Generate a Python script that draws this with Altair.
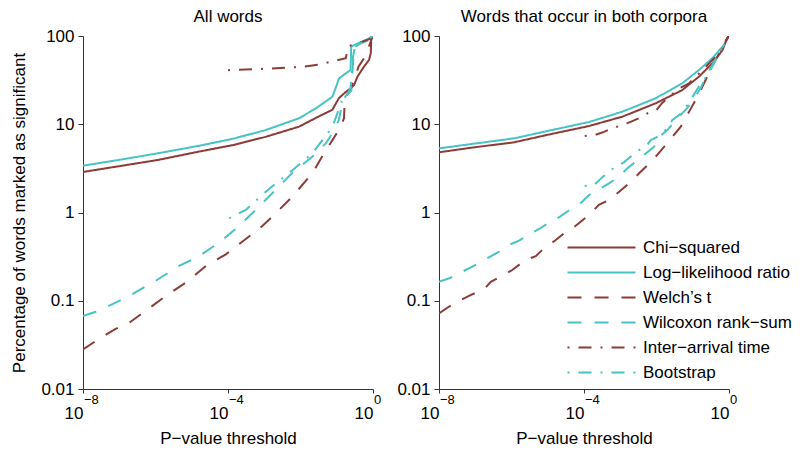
import altair as alt
import pandas as pd

RED = "#8c3b37"
CYAN = "#46c3c5"
FONT = "Liberation Sans"

series_names = ["Chi−squared", "Log−likelihood ratio", "Welch’s t",
                "Wilcoxon rank−sum", "Inter−arrival time", "Bootstrap"]
series_colors = [RED, CYAN, RED, CYAN, RED, CYAN]
series_dashes = [[1, 0], [1, 0], [14, 13], [14, 13], [2, 9, 13, 9], [2, 9, 13, 9]]
panel_titles = ["All words", "Words that occur in both corpora"]

x_ticks = [1e-8, 1e-4, 1.0]
x_exponents = ["−8", "−4", "0"]
y_ticks = [0.01, 0.1, 1, 10, 100]

# ---- Left panel: all words (x = log10 p-value, y = % significant) ----
chi_L_exp = [-8, -7, -5.93, -4.8, -3.87, -2.96, -2.04, -1.49, -1.12, -0.94, -0.74, -0.6, -0.52, -0.43, -0.25, -0.11, -0.06, -0.05, -0.03, 0]
chi_L_val = [2.88, 3.35, 3.94, 4.9, 5.8, 7.2, 9.4, 12.3, 14.6, 19.8, 23.4, 25.7, 27.9, 34.6, 44.9, 53.5, 64, 95, 98, 100]
ll_L_exp = [-8, -7, -5.93, -4.8, -3.86, -2.96, -2.04, -1.58, -1.12, -1.0, -0.94, -0.74, -0.62, -0.6, -0.43, -0.2, -0.03, 0]
ll_L_val = [3.39, 3.95, 4.69, 5.7, 6.85, 8.6, 11.7, 15.1, 20.5, 27.9, 33, 38, 41, 76, 82, 90, 98, 100]
we_L_exp = [-8, -7.56, -7.1, -6.73, -6.27, -5.72, -5.17, -4.61, -4.06, -3.51, -3.06, -2.68, -2.23, -1.67, -1.35, -1.12, -0.89, -0.8, -0.78, -0.7, -0.6, -0.5, -0.4, -0.2, -0.05, 0]
we_L_val = [0.028, 0.037, 0.048, 0.056, 0.077, 0.113, 0.16, 0.248, 0.336, 0.50, 0.70, 0.98, 1.51, 2.8, 4.7, 6.6, 9.4, 11.7, 19, 22, 26, 33, 45, 60, 90, 100]
wx_L_exp = [-8, -7.65, -7.2, -6.65, -6.0, -5.35, -4.8, -4.25, -3.79, -3.33, -2.78, -2.23, -1.67, -1.3, -1.12, -0.94, -0.85, -0.75, -0.6, -0.55, -0.5, -0.35, -0.1, 0]
wx_L_val = [0.067, 0.075, 0.091, 0.118, 0.168, 0.248, 0.32, 0.455, 0.65, 0.98, 1.65, 2.8, 4.3, 6.1, 7.9, 11.2, 17.4, 21, 24, 50, 75, 82, 90, 100]
ia_L_exp = [-4, -3, -2, -1.5, -1.0, -0.75, -0.7, -0.6, -0.3, -0.1, 0]
ia_L_val = [41, 42.5, 44.5, 47.5, 53, 56, 72, 79, 86, 92, 100]
bs_L_exp = [-3.97, -3.51, -2.96, -2.23, -1.67, -1.12, -0.85, -0.75, -0.62, -0.55, -0.5, -0.4, -0.2, 0]
bs_L_val = [0.86, 1.07, 1.72, 3.0, 4.7, 9.3, 18.8, 20, 26, 58, 75, 82, 88, 100]

# ---- Right panel: words that occur in both corpora ----
chi_R_exp = [-8, -7, -5.93, -5, -3.86, -2.94, -2.02, -1.29, -0.83, -0.46, -0.18, -0.05, 0]
chi_R_val = [4.81, 5.5, 6.24, 7.6, 9.55, 12.2, 17.3, 24.4, 34.6, 49, 69, 95, 100]
ll_R_exp = [-8, -7, -5.93, -5, -3.86, -2.94, -2.02, -1.29, -0.83, -0.46, -0.18, -0.12]
ll_R_val = [5.33, 6.05, 6.92, 8.4, 10.6, 13.9, 19.7, 29.1, 41.2, 55.9, 75.6, 81]
we_R_exp = [-8, -7.72, -7.4, -7.13, -6.76, -6.57, -6.21, -5.98, -5.61, -5.33, -5.06, -4.83, -4.55, -4.32, -4.05, -3.86, -3.59, -3.31, -3.03, -2.71, -2.48, -2.2, -1.98, -1.75, -1.56, -1.33, -1.1, -0.92, -0.78, -0.6, -0.5, -0.32, -0.05, 0]
we_R_val = [0.072, 0.086, 0.102, 0.116, 0.135, 0.164, 0.196, 0.223, 0.29, 0.32, 0.41, 0.47, 0.58, 0.66, 0.81, 0.94, 1.22, 1.39, 1.72, 2.23, 2.78, 3.6, 4.5, 5.8, 7.2, 9.4, 13.9, 18.8, 24.4, 34.6, 43, 58, 95, 100]
wx_R_exp = [-8, -7.72, -7.36, -7.08, -6.76, -6.39, -6.07, -5.79, -5.47, -5.24, -4.92, -4.69, -4.37, -4.14, -3.86, -3.31, -3.03, -2.81, -2.57, -2.34, -2.06, -1.98, -1.7, -1.38, -1.16, -1.02, -0.78, -0.64, -0.46, -0.37, -0.14]
wx_R_val = [0.164, 0.18, 0.213, 0.243, 0.29, 0.35, 0.43, 0.48, 0.58, 0.65, 0.79, 0.88, 1.09, 1.22, 1.58, 2.14, 2.55, 3.16, 3.77, 4.5, 5.6, 6.9, 8.6, 12.2, 15.1, 18, 25.7, 34.6, 46.8, 58, 79]
ia_R_exp = [-3.98, -3.68, -3.45, -3.22, -2.95, -2.7, -2.48, -2.25, -2.0, -1.85, -1.65, -1.37, -1.1, -0.64, -0.28, 0]
ia_R_val = [7.36, 7.6, 8.2, 9.0, 9.8, 10.7, 11.7, 13.3, 14.5, 17.3, 20.5, 25.6, 29.1, 44.9, 63.7, 100]
bs_R_exp = [-3.98, -3.72, -3.5, -3.31, -3.13, -2.9, -2.71, -2.48, -2.26, -2.16, -1.98, -1.7, -1.56, -1.37, -1.15, -0.92, -0.83, -0.55, -0.37, -0.18, -0.12]
bs_R_val = [2.0, 2.05, 2.5, 2.9, 3.3, 3.7, 4.3, 5.1, 5.8, 6.6, 7.2, 9.0, 11.2, 12.8, 16.5, 23.4, 26.7, 38, 53.5, 75.6, 83]

panel_series = {
    0: [(chi_L_exp, chi_L_val), (ll_L_exp, ll_L_val), (we_L_exp, we_L_val),
        (wx_L_exp, wx_L_val), (ia_L_exp, ia_L_val), (bs_L_exp, bs_L_val)],
    1: [(chi_R_exp, chi_R_val), (ll_R_exp, ll_R_val), (we_R_exp, we_R_val),
        (wx_R_exp, wx_R_val), (ia_R_exp, ia_R_val), (bs_R_exp, bs_R_val)],
}

rows = []
for panel, lst in panel_series.items():
    for name, (exps, vals) in zip(series_names, lst):
        for i, (e, v) in enumerate(zip(exps, vals)):
            rows.append({"panel": panel, "series": name, "p": 10.0 ** e, "v": v, "i": i})
df = pd.DataFrame(rows)
exp_df = pd.DataFrame({"p": x_ticks, "t": x_exponents})

W, H = 290, 353
AX = "#333333"
FS = 17

x_scale = alt.Scale(type="log", domain=[1e-8, 1], nice=False)
y_scale = alt.Scale(type="log", domain=[0.01, 100], nice=False)

# wide horizontal legend stroke: path spans 4x the nominal symbol size
legend = alt.Legend(
    title=None, orient="none", legendX=509, legendY=202,
    symbolType="M-4,0H4", symbolSize=289, symbolStrokeWidth=2,
    labelFont=FONT, labelFontSize=FS, labelColor="black", labelOffset=32,
    rowPadding=7, padding=0, labelLimit=300,
)

y_label_expr = ("datum.value < 0.05 ? '0.01' : datum.value < 0.5 ? '0.1' : "
                "datum.value < 5 ? '1' : datum.value < 50 ? '10' : '100'")


def panel(idx):
    x_axis = alt.Axis(values=x_ticks, labelExpr="'10'", labelAlign="right",
                      labelFlush=False, labelPadding=12, tickSize=4, grid=False,
                      title="P−value threshold", titleFontSize=FS, titleFontWeight="normal",
                      titleFont=FONT, titlePadding=9, titleColor="black",
                      labelFont=FONT, labelFontSize=FS, labelColor="black",
                      domainColor=AX, tickColor=AX)
    y_axis = alt.Axis(values=y_ticks, labelExpr=y_label_expr, labelFlush=False,
                      labelPadding=4, tickSize=5, grid=False,
                      title="Percentage of words marked as significant" if idx == 0 else None,
                      titleFontSize=FS, titleFontWeight="normal", titleFont=FONT,
                      titlePadding=12, titleColor="black",
                      labelFont=FONT, labelFontSize=FS, labelColor="black",
                      domainColor=AX, tickColor=AX)
    lines = alt.Chart(df[df.panel == idx]).mark_line(strokeWidth=2, clip=True).encode(
        x=alt.X("p:Q", scale=x_scale, axis=x_axis),
        y=alt.Y("v:Q", scale=y_scale, axis=y_axis),
        color=alt.Color("series:N", scale=alt.Scale(domain=series_names, range=series_colors),
                        legend=legend),
        strokeDash=alt.StrokeDash("series:N",
                                  scale=alt.Scale(domain=series_names, range=series_dashes),
                                  legend=legend),
        order=alt.Order("i:Q"),
    )
    exps = alt.Chart(exp_df).mark_text(align="left", baseline="alphabetic", dx=1,
                                       fontSize=13, font=FONT, color="black").encode(
        x=alt.X("p:Q", scale=x_scale),
        y=alt.value(H + 15),
        text="t:N",
    )
    return alt.layer(lines, exps).properties(
        width=W, height=H,
        title=alt.TitleParams(panel_titles[idx], fontSize=FS, fontWeight="normal",
                              font=FONT, color="black", offset=1),
    )


chart = alt.hconcat(panel(0), panel(1), spacing=14).properties(
    padding={"left": 10, "top": 8, "right": 2, "bottom": 2}
).configure_view(stroke=None)

chart.save("out.html", embed_options={"renderer": "svg", "actions": False})
